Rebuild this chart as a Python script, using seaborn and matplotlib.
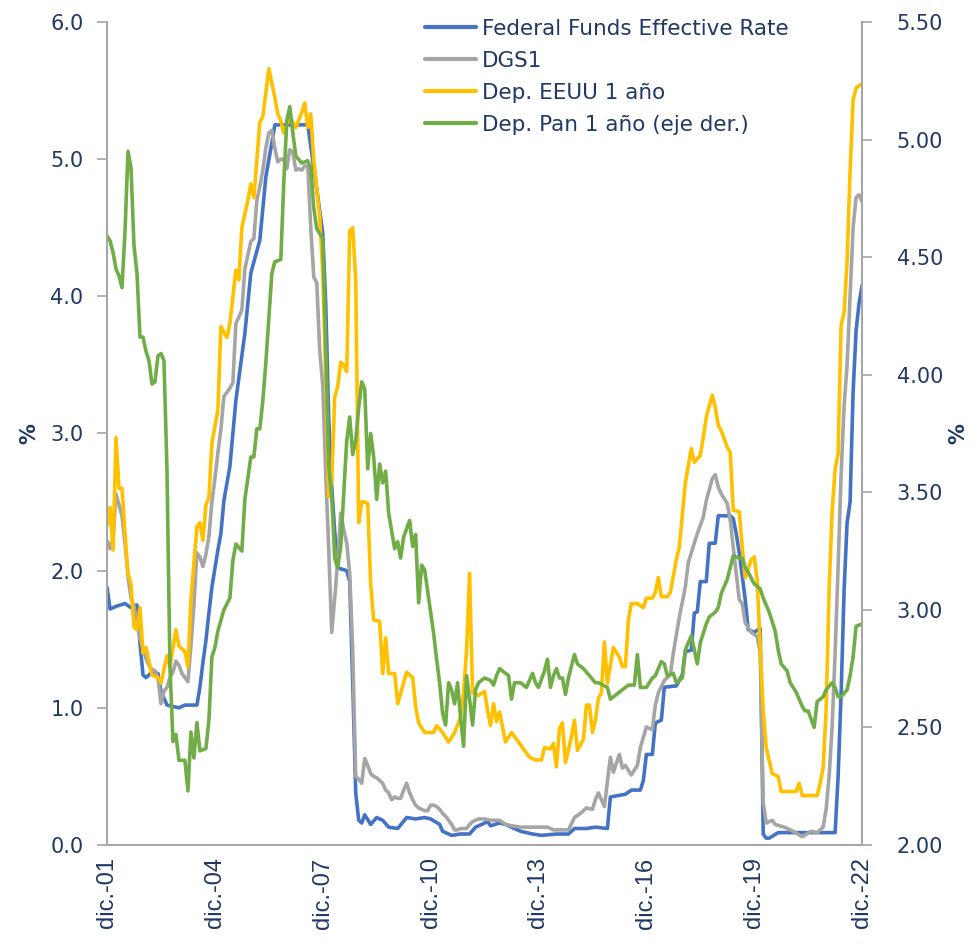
import matplotlib
matplotlib.use("Agg")
import matplotlib.pyplot as plt
import pandas as pd
import seaborn as sns

# ---------------- data (month index: 0 = dic-01, 252 = dic-22) ----------------
x_tick_months = [0, 36, 72, 108, 144, 180, 216, 252]
x_tick_labels = ["dic.-01", "dic.-04", "dic.-07", "dic.-10", "dic.-13", "dic.-16", "dic.-19", "dic.-22"]

series_names = ["Federal Funds Effective Rate", "DGS1", "Dep. EEUU 1 año", "Dep. Pan 1 año (eje der.)"]

ffr_points = [(0,1.88),(1,1.72),(3,1.74),(6,1.76),(8,1.73),(10,1.75),(11,1.47),(12,1.24),(13,1.22),(15,1.26),
    (17,1.25),(18,1.12),(20,1.02),(24,1.00),(26,1.02),(30,1.02),(31,1.15),(32,1.33),(33,1.49),(34,1.69),
    (35,1.88),(37,2.15),(38,2.27),(39,2.51),(41,2.76),(42,3.00),(43,3.24),(46,3.73),(48,4.17),(51,4.41),
    (53,4.87),(55,5.12),(56,5.25),(67,5.25),(69,4.94),(72,4.46),(73,3.94),(74,3.10),(75,2.61),(76,2.28),
    (77,2.02),(80,2.00),(81,1.92),(82,1.18),(83,0.38),(84,0.18),(85,0.16),(86,0.22),(88,0.15),(90,0.20),
    (92,0.18),(94,0.13),(97,0.12),(100,0.20),(103,0.19),(106,0.20),(108,0.19),(111,0.15),(112,0.10),(115,0.07),
    (118,0.08),(121,0.08),(123,0.13),(127,0.17),(128,0.14),(131,0.16),(133,0.15),(138,0.10),(142,0.08),(145,0.07),
    (150,0.08),(154,0.08),(156,0.12),(160,0.12),(163,0.13),(167,0.12),(168,0.35),(173,0.37),(175,0.40),(178,0.40),
    (179,0.47),(180,0.66),(182,0.66),(183,0.89),(185,0.91),(186,1.15),(190,1.16),(192,1.24),(193,1.41),(195,1.42),
    (196,1.69),(197,1.70),(198,1.92),(200,1.92),(201,2.20),(203,2.20),(204,2.40),(208,2.40),(209,2.38),(210,2.27),
    (211,2.13),(213,1.79),(214,1.57),(216,1.55),(218,1.58),(219,0.08),(220,0.05),(221,0.05),(224,0.09),(243,0.09),
    (244,0.50),(245,1.10),(246,1.86),(247,2.35),(248,2.50),(249,3.30),(250,3.75),(251,3.95),(252,4.08)]

dgs1_points = [(0,2.22),(1,2.16),(2,2.23),(3,2.56),(4,2.48),(5,2.40),(6,2.20),(7,1.96),(8,1.80),(9,1.74),
    (10,1.62),(11,1.50),(12,1.44),(13,1.36),(14,1.31),(15,1.28),(16,1.27),(17,1.22),(18,1.03),(19,1.12),
    (20,1.15),(21,1.22),(22,1.26),(23,1.34),(24,1.31),(25,1.25),(26,1.22),(27,1.19),(28,1.45),(29,1.75),
    (30,2.13),(31,2.10),(32,2.03),(33,2.12),(34,2.25),(35,2.50),(36,2.67),(37,2.86),(38,3.03),(39,3.27),
    (40,3.30),(41,3.33),(42,3.37),(43,3.80),(44,3.85),(45,3.90),(46,4.20),(47,4.30),(48,4.40),(49,4.42),
    (50,4.70),(51,4.80),(52,4.92),(53,5.08),(54,5.19),(55,5.21),(56,5.08),(57,4.98),(58,5.00),(59,5.00),
    (60,4.93),(61,5.07),(62,5.05),(63,4.92),(64,4.93),(65,4.92),(66,4.95),(67,4.95),(68,4.50),(69,4.14),
    (70,4.10),(71,3.60),(72,3.35),(73,2.70),(74,2.15),(75,1.55),(76,1.80),(77,2.08),(78,2.42),(79,2.30),
    (80,2.20),(81,1.98),(82,1.42),(83,0.50),(84,0.48),(85,0.45),(86,0.63),(87,0.58),(88,0.52),(89,0.50),
    (90,0.49),(91,0.47),(92,0.45),(93,0.40),(94,0.38),(95,0.33),(96,0.35),(97,0.34),(98,0.34),(99,0.40),
    (100,0.45),(101,0.38),(102,0.33),(103,0.29),(104,0.27),(105,0.26),(106,0.25),(107,0.25),(108,0.29),(109,0.29),
    (110,0.28),(111,0.26),(112,0.23),(113,0.21),(114,0.18),(115,0.15),(116,0.11),(117,0.11),(118,0.12),(120,0.12),
    (121,0.15),(122,0.17),(123,0.18),(124,0.19),(126,0.19),(128,0.18),(131,0.18),(133,0.15),(135,0.14),(138,0.13),
    (142,0.13),(147,0.13),(149,0.11),(154,0.11),(156,0.20),(158,0.23),(160,0.27),(162,0.26),(163,0.33),(164,0.38),
    (166,0.28),(168,0.64),(169,0.53),(171,0.66),(172,0.56),(173,0.58),(175,0.51),(177,0.58),(178,0.71),(180,0.86),
    (182,0.84),(183,1.02),(184,1.11),(186,1.20),(188,1.24),(189,1.40),(191,1.66),(193,1.88),(194,2.06),(197,2.27),
    (199,2.39),(200,2.51),(202,2.67),(203,2.70),(204,2.61),(205,2.56),(207,2.49),(208,2.37),(209,2.17),(210,1.98),
    (211,1.79),(212,1.76),(213,1.62),(215,1.55),(217,1.52),(218,1.40),(219,0.31),(220,0.16),(222,0.18),(223,0.15),
    (226,0.13),(229,0.10),(232,0.06),(235,0.10),(237,0.09),(239,0.13),(240,0.26),(241,0.50),(242,0.86),(243,1.40),
    (244,2.03),(245,2.70),(246,3.20),(247,3.50),(248,4.00),(249,4.50),(250,4.72),(251,4.74),(252,4.69)]

dep_us_points = [(0,2.33),(1,2.46),(2,2.15),(3,2.97),(4,2.60),(5,2.60),(6,2.27),(7,1.98),(8,1.90),(9,1.59),
    (10,1.57),(11,1.73),(12,1.40),(13,1.44),(15,1.24),(17,1.22),(18,1.18),(20,1.38),(21,1.30),(23,1.57),
    (24,1.45),(26,1.41),(27,1.30),(28,1.79),(30,2.32),(31,2.35),(32,2.22),(33,2.48),(34,2.53),(35,2.93),
    (37,3.17),(38,3.78),(40,3.70),(41,3.80),(43,4.19),(44,4.12),(45,4.50),(47,4.70),(48,4.82),(49,4.72),
    (50,5.00),(51,5.27),(52,5.31),(54,5.66),(56,5.45),(57,5.33),(58,5.28),(59,5.19),(61,5.31),(63,5.23),
    (65,5.34),(66,5.41),(67,5.23),(68,5.33),(69,4.99),(71,4.58),(72,4.17),(73,3.40),(74,2.54),(75,2.66),
    (76,3.27),(77,3.34),(78,3.52),(79,3.50),(80,3.45),(81,4.48),(82,4.50),(83,4.12),(84,2.35),(85,2.50),
    (86,2.50),(87,2.49),(88,1.90),(89,1.64),(91,1.63),(92,1.25),(93,1.51),(94,1.25),(96,1.25),(97,1.03),
    (100,1.26),(102,1.22),(103,1.01),(104,0.89),(106,0.82),(109,0.82),(110,0.87),(112,0.82),(114,0.75),(116,0.82),
    (118,0.93),(119,1.11),(120,1.42),(121,1.98),(122,1.11),(124,1.09),(126,1.12),(127,0.98),(128,0.87),(129,1.03),
    (130,0.90),(131,0.97),(133,0.75),(135,0.82),(138,0.73),(141,0.64),(143,0.62),(145,0.62),(146,0.71),(148,0.70),
    (149,0.74),(150,0.57),(151,0.85),(152,0.89),(153,0.60),(155,0.79),(156,0.91),(157,0.69),(159,0.77),(160,1.02),
    (161,1.02),(162,0.82),(163,0.91),(164,1.07),(165,1.11),(166,1.48),(167,1.18),(169,1.44),(171,1.37),(172,1.30),
    (173,1.30),(174,1.64),(175,1.76),(177,1.76),(179,1.73),(180,1.80),(182,1.80),(183,1.84),(184,1.95),(185,1.81),
    (187,1.81),(188,1.84),(190,2.08),(191,2.17),(193,2.64),(195,2.89),(196,2.79),(198,2.84),(199,2.97),(200,3.12),
    (202,3.28),(203,3.19),(204,3.06),(205,3.02),(207,2.90),(208,2.86),(209,2.44),(211,2.43),(212,2.17),(213,1.95),
    (215,2.08),(216,2.10),(217,1.93),(218,1.44),(219,0.98),(220,0.71),(222,0.52),(224,0.50),(225,0.39),(230,0.39),
    (231,0.45),(232,0.36),(237,0.36),(238,0.45),(239,0.56),(240,0.98),(241,1.86),(242,2.43),(243,2.74),(244,2.85),
    (245,3.79),(246,3.88),(247,4.26),(248,4.91),(249,5.43),(250,5.52),(252,5.55)]

dep_pan_points = [(0,4.59),(1,4.57),(2,4.52),(3,4.45),(4,4.42),(5,4.37),(6,4.61),(7,4.95),(8,4.88),(9,4.55),
    (10,4.43),(11,4.16),(12,4.16),(13,4.10),(14,4.06),(15,3.96),(16,3.97),(17,4.08),(18,4.09),(19,4.06),
    (20,3.60),(21,2.76),(22,2.44),(23,2.47),(24,2.36),(26,2.36),(27,2.23),(28,2.48),(29,2.37),(30,2.52),
    (31,2.40),(33,2.41),(34,2.53),(35,2.80),(36,2.84),(37,2.91),(39,3.00),(41,3.05),(42,3.21),(43,3.28),
    (45,3.25),(46,3.47),(48,3.65),(49,3.65),(50,3.77),(51,3.77),(52,3.89),(53,4.05),(55,4.43),(56,4.48),
    (58,4.49),(59,4.82),(60,5.08),(61,5.14),(62,5.03),(63,4.93),(65,4.90),(67,4.91),(68,4.88),(69,4.71),
    (70,4.62),(72,4.58),(73,4.12),(74,3.61),(75,3.48),(76,3.22),(77,3.18),(78,3.27),(80,3.72),(81,3.82),
    (82,3.66),(83,3.72),(84,3.86),(85,3.97),(86,3.94),(87,3.60),(88,3.75),(89,3.65),(90,3.47),(91,3.62),
    (92,3.54),(93,3.59),(94,3.41),(96,3.26),(97,3.29),(98,3.22),(99,3.31),(101,3.38),(102,3.27),(103,3.32),
    (104,3.03),(105,3.19),(106,3.17),(107,3.08),(109,2.90),(110,2.79),(111,2.69),(112,2.56),(113,2.51),(114,2.69),
    (115,2.66),(116,2.60),(117,2.69),(118,2.54),(119,2.42),(120,2.72),(121,2.62),(122,2.51),(123,2.66),(124,2.69),
    (126,2.71),(128,2.70),(129,2.68),(130,2.72),(131,2.75),(133,2.73),(134,2.72),(135,2.62),(136,2.69),(138,2.69),
    (140,2.67),(142,2.73),(143,2.69),(144,2.67),(146,2.74),(147,2.79),(148,2.67),(149,2.72),(150,2.75),(151,2.71),
    (152,2.71),(153,2.64),(154,2.71),(156,2.81),(157,2.77),(159,2.75),(161,2.72),(163,2.69),(164,2.69),(167,2.67),
    (168,2.62),(169,2.63),(171,2.65),(173,2.67),(174,2.68),(176,2.68),(177,2.81),(178,2.67),(180,2.67),(182,2.71),
    (183,2.72),(184,2.75),(185,2.78),(186,2.77),(187,2.72),(189,2.73),(190,2.69),(192,2.71),(193,2.83),(194,2.86),
    (195,2.89),(197,2.77),(198,2.86),(200,2.94),(201,2.97),(203,2.99),(204,3.01),(205,3.07),(207,3.13),(208,3.18),
    (209,3.23),(211,3.22),(212,3.22),(213,3.18),(214,3.16),(216,3.11),(218,3.09),(219,3.05),(221,2.99),(223,2.91),
    (224,2.83),(225,2.77),(227,2.74),(228,2.69),(230,2.65),(232,2.59),(233,2.57),(234,2.57),(236,2.50),(237,2.61),
    (239,2.63),(240,2.66),(242,2.69),(243,2.67),(244,2.63),(245,2.63),(247,2.66),(248,2.72),(249,2.80),(250,2.93),
    (252,2.94)]

colors = ["#4472C4", "#A5A5A5", "#FFC000", "#70AD47"]
NAVY = "#1F3864"
SPINE = "#A6A6A6"

# ---------------- style ----------------
sns.set_style("white")
plt.rcParams["font.family"] = ["DejaVu Sans"]


def to_df(points):
    months, values = zip(*points)
    return pd.DataFrame({"month": list(months), "value": list(values)})


fig = plt.figure(figsize=(9.73, 9.44), dpi=100)
ax = fig.add_axes([0.110, 0.1049, 0.776, 0.8718])
ax2 = ax.twinx()

lw = 2.6
for pts, name, col in zip([ffr_points, dgs1_points, dep_us_points], series_names[:3], colors[:3]):
    sns.lineplot(data=to_df(pts), x="month", y="value", ax=ax, color=col, linewidth=lw,
                 label=name, estimator=None)
sns.lineplot(data=to_df(dep_pan_points), x="month", y="value", ax=ax2, color=colors[3],
             linewidth=lw, label=series_names[3], estimator=None)

# axes ranges and ticks
ax.set_xlim(0, 252)
ax.set_ylim(0, 6)
ax2.set_ylim(2.0, 5.5)
ax.set_yticks([0, 1, 2, 3, 4, 5, 6])
ax.set_yticklabels([f"{v:.1f}" for v in [0, 1, 2, 3, 4, 5, 6]])
r_ticks = [2.0, 2.5, 3.0, 3.5, 4.0, 4.5, 5.0, 5.5]
ax2.set_yticks(r_ticks)
ax2.set_yticklabels([f"{v:.2f}" for v in r_ticks])
ax.set_xticks(x_tick_months)
ax.set_xticklabels(x_tick_labels, rotation=90, fontsize=17, color=NAVY, family="Liberation Sans")

for a in (ax, ax2):
    a.set_xlabel("")
    a.spines["top"].set_visible(False)
    for s in ("left", "right", "bottom"):
        a.spines[s].set_color(SPINE)
        a.spines[s].set_linewidth(1.3)
ax.tick_params(axis="y", which="both", direction="out", length=7, width=1.2, color=SPINE,
               labelsize=15, labelcolor=NAVY, pad=10)
ax2.tick_params(axis="y", which="both", direction="out", length=7, width=1.2, color=SPINE,
                labelsize=15, labelcolor=NAVY, pad=18)
ax.tick_params(axis="x", length=0, pad=9)

ax.set_ylabel("%", fontsize=15, fontweight="bold", color=NAVY, labelpad=8)
ax2.set_ylabel("%", fontsize=15, fontweight="bold", color=NAVY, rotation=90, labelpad=4)

# legend
h1, l1 = ax.get_legend_handles_labels()
h2, l2 = ax2.get_legend_handles_labels()
if ax.get_legend():
    ax.get_legend().remove()
if ax2.get_legend():
    ax2.get_legend().remove()
leg = fig.legend(h1 + h2, l1 + l2, loc="upper left", bbox_to_anchor=(425 / 973, 1 - 19 / 944),
                 bbox_transform=fig.transFigure, frameon=False, fontsize=15.5, handlelength=2.35,
                 handletextpad=0.3, labelspacing=0.55, borderpad=0, borderaxespad=0)
for t in leg.get_texts():
    t.set_color(NAVY)
for h in leg.get_lines():
    h.set_linewidth(3)

fig.savefig("out.png", dpi=100)
